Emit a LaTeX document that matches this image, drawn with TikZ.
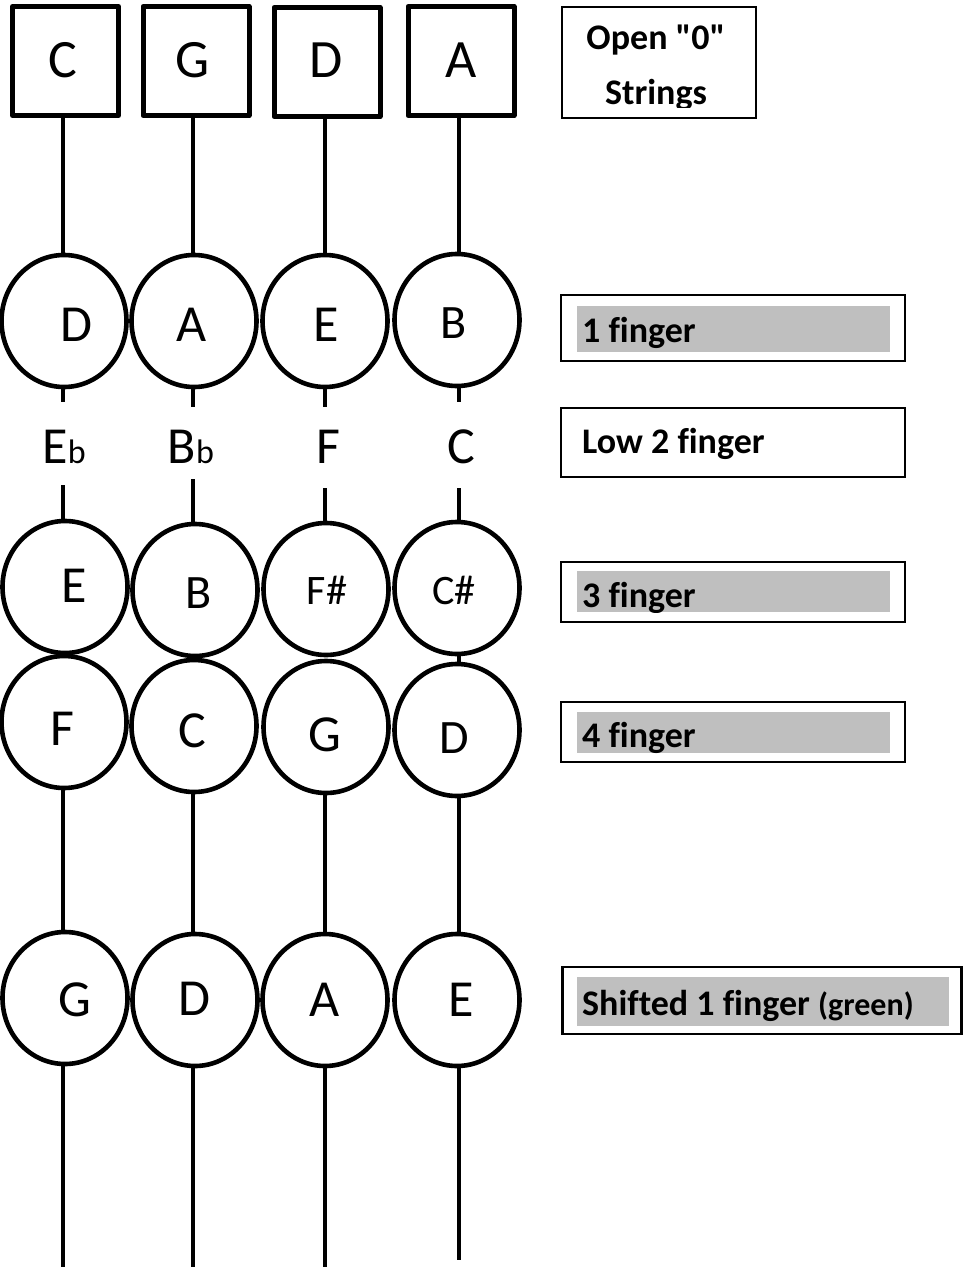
\documentclass[tikz,border=0pt]{standalone}
\usepackage{fontspec}
\setmainfont{Carlito}
\newfontfamily\cf{Carlito}[Ligatures=NoCommon]
\usetikzlibrary{shapes.geometric}
\definecolor{lblgrey}{RGB}{191,191,191}
\tikzset{
  sq/.style={draw, line width=5pt, minimum width=106pt, minimum height=109pt, line join=round, inner sep=0pt},
  note/.style={ellipse, draw, line width=4.6pt, minimum width=125pt, minimum height=132pt, inner sep=0pt},
  str/.style={line width=3.3pt},
  lbox/.style={draw, line width=2.2pt, inner sep=0pt},
  greybar/.style={fill=lblgrey, inner sep=0pt},
  big/.style={font=\cf\fontsize{52}{52}\selectfont, inner sep=0pt, anchor=base},
  bigger/.style={font=\cf\fontsize{54}{54}\selectfont, inner sep=0pt, anchor=base},
  mid/.style={font=\cf\fontsize{48}{48}\selectfont, inner sep=0pt, anchor=base},
  small/.style={font=\cf\fontsize{42}{42}\selectfont, inner sep=0pt, anchor=base},
  lab/.style={font=\cf\bfseries\fontsize{36}{36}\selectfont, inner sep=0pt, anchor=base west},
  labc/.style={font=\cf\bfseries\fontsize{36}{36}\selectfont, inner sep=0pt, anchor=base},
}
\newcommand{\flatnote}[1]{{\cf\fontsize{52}{52}\selectfont #1\fontsize{34}{34}\selectfont b}}
\begin{document}
\begin{tikzpicture}[x=1pt,y=-1pt]
\useasboundingbox (0,0) rectangle (965,1268);

% open strings
\node[sq] (s1) at (65.5,61) {};
\node[sq] (s2) at (196,61) {};
\node[sq] (s3) at (327,62) {};
\node[sq] (s4) at (461,61) {};
\node[bigger] (ts1) at (63,78) {C};
\node[bigger] (ts2) at (193,78) {G};
\node[bigger] (ts3) at (326,78) {D};
\node[bigger] (ts4) at (461,78) {A};

% row 1
\node[note] (c11) at (64,321) {};
\node[note] (c12) at (194,321) {};
\node[note] (c13) at (325,321) {};
\node[note] (c14) at (457,320) {};
\node[big] (t11) at (76,341) {D};
\node[big] (t12) at (192,341) {A};
\node[big] (t13) at (326,341) {E};
\node[mid] (t14) at (454,338) {B};

% low 2
\node[inner sep=0pt, anchor=base] (t21) at (64,463) {\flatnote{E}};
\node[inner sep=0pt, anchor=base] (t22) at (191,463) {\flatnote{B}};
\node[big] (t23) at (328,463) {F};
\node[big] (t24) at (461,463) {C};

% row 3
\node[note] (c31) at (65,587) {};
\node[note] (c32) at (195,590) {};
\node[note] (c33) at (326,589) {};
\node[note] (c34) at (457,588) {};
\node[big] (t31) at (74,602) {E};
\node[mid] (t32) at (199,608) {B};
\node[small] (t33) at (327,604) {F\#};
\node[small] (t34) at (454,604) {C\#};

% row 4
\node[note] (c41) at (64,722) {};
\node[note] (c42) at (194,726) {};
\node[note] (c43) at (326,727) {};
\node[note] (c44) at (457,730) {};
\node[big] (t41) at (62,745) {F};
\node[big] (t42) at (192,747) {C};
\node[big] (t43) at (325,751) {G};
\node[mid] (t44) at (454,753) {D};

% row 5
\node[note] (c51) at (65,998) {};
\node[note] (c52) at (195,1000) {};
\node[note] (c53) at (325,1000) {};
\node[note] (c54) at (457,1000) {};
\node[big] (t51) at (75,1016) {G};
\node[big] (t52) at (194,1015) {D};
\node[big] (t53) at (325,1016) {A};
\node[big] (t54) at (461,1016) {E};

% free ends of the strings
\coordinate (a1) at (63,402);
\coordinate (a2) at (193,407);
\coordinate (a3) at (325,407);
\coordinate (a4) at (459,402);
\coordinate (b1) at (63,485);
\coordinate (b2) at (193,479);
\coordinate (b3) at (325,488);
\coordinate (b4) at (459,488);
\coordinate (e1) at (63,1267);
\coordinate (e2) at (193,1267);
\coordinate (e3) at (325,1267);
\coordinate (e4) at (459,1260);

% strings
\foreach \i/\x in {1/63,2/193,3/325,4/459}{
  \draw[str] (\x,0 |- s\i.south) -- (\x,0 |- c1\i.north);
  \draw[str] (\x,0 |- c1\i.south) -- (a\i);
  \draw[str] (b\i) -- (\x,0 |- c3\i.north);
  \draw[str] (\x,0 |- c4\i.south) -- (\x,0 |- c5\i.north);
  \draw[str] (\x,0 |- c5\i.south) -- (e\i);
}
\draw[str] (459,0 |- c34.south) -- (459,0 |- c44.north);

% legend boxes
\node[lbox, minimum width=194pt, minimum height=111pt] (k0) at (659,62.5) {};
\node[labc] (k0a) at (656,50) {Open "0"};
\begin{scope}
  \clip (560,0) rectangle (760,108);
  \node[labc] (k0b) at (656,105) {Strings};
\end{scope}

\node[lbox, minimum width=344pt, minimum height=66pt] (k1) at (733,328) {};
\node[greybar, minimum width=313pt, minimum height=46pt] (g1) at (733.5,329) {};
\node[lab] (k1t) at (582,342) {1 finger};

\node[lbox, minimum width=344pt, minimum height=69pt] (k2) at (733,442.5) {};
\node[lab] (k2t) at (582,453) {Low 2 finger};

\node[lbox, minimum width=344pt, minimum height=60pt] (k3) at (733,592) {};
\node[greybar, minimum width=313pt, minimum height=41pt] (g3) at (733.5,591.5) {};
\begin{scope}
  \clip (577,571) rectangle (890,612);
  \node[lab] (k3t) at (582,607) {3 finger};
\end{scope}

\node[lbox, minimum width=344pt, minimum height=60pt] (k4) at (733,732) {};
\node[greybar, minimum width=313pt, minimum height=41pt] (g4) at (733.5,732.5) {};
\begin{scope}
  \clip (577,712) rectangle (890,753);
  \node[lab] (k4t) at (582,747) {4 finger};
\end{scope}

\node[lbox, minimum width=399pt, minimum height=67pt] (k5) at (762,1000.5) {};
\node[greybar, minimum width=372pt, minimum height=49pt] (g5) at (763,1001.5) {};
\node[lab] (k5t) at (582,1015) {Shifted 1 finger {\fontsize{32}{32}\selectfont (green)}};
\end{tikzpicture}
\end{document}
